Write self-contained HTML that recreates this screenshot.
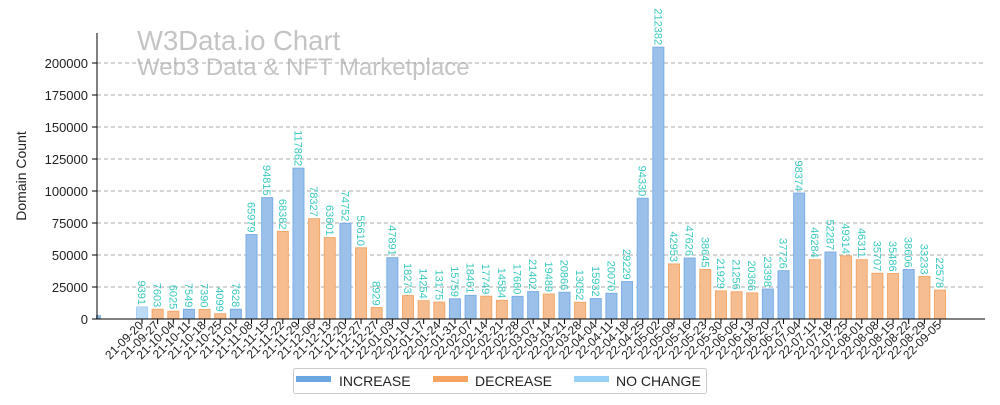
<!DOCTYPE html>
<html><head><meta charset="utf-8"><style>
body{margin:0;background:#fff;}
svg{font-family:"Liberation Sans",sans-serif;}
</style></head><body>
<svg id="chart" width="1000" height="400">
<text x="137" y="50" font-size="27.5" fill="#c4c4c4">W3Data.io Chart</text>
<text x="137" y="75" font-size="24" fill="#c4c4c4">Web3 Data &amp; NFT Marketplace</text>
<text transform="translate(26,176) rotate(-90)" text-anchor="middle" font-size="14" fill="#222">Domain Count</text>
<g id="grid"></g><g id="bars"></g><g id="axes"></g>
<g>
<rect x="293.5" y="368.5" width="413" height="25" fill="#fff" stroke="#ccc" rx="2"/>
<g><rect x="296" y="376" width="35" height="6" fill="#6aa6e2"/><text x="339" y="386" font-size="14" fill="#222">INCREASE</text></g>
<g><rect x="433" y="376" width="35" height="6" fill="#f4a460"/><text x="475" y="386" font-size="14" fill="#222">DECREASE</text></g>
<g><rect x="574" y="376" width="35" height="6" fill="#99d0f8"/><text x="616" y="386" font-size="14" fill="#222">NO CHANGE</text></g>
</g>
</svg>
<script>
const categories=["21-09-20","21-09-27","21-10-04","21-10-11","21-10-18","21-10-25","21-11-01","21-11-08","21-11-15","21-11-22","21-11-29","21-12-06","21-12-13","21-12-20","21-12-27","21-12-27","22-01-03","22-01-10","22-01-17","22-01-24","22-01-31","22-02-07","22-02-14","22-02-21","22-02-28","22-03-07","22-03-14","22-03-21","22-03-28","22-04-04","22-04-11","22-04-18","22-04-25","22-05-02","22-05-09","22-05-16","22-05-23","22-05-30","22-06-06","22-06-13","22-06-20","22-06-27","22-07-04","22-07-11","22-07-18","22-07-25","22-08-01","22-08-08","22-08-15","22-08-22","22-08-29","22-09-05"];
const values=[9391,7603,6025,7549,7390,4099,7628,65979,94815,68382,117862,78327,63601,74752,55610,8929,47891,18273,14254,13175,15759,18461,17749,14584,17660,21402,19489,20866,13052,15932,20070,29229,94330,212382,42953,47626,38645,21929,21256,20366,23398,37726,98374,46284,52287,49314,46311,35707,35486,38606,33233,22578];
const kinds=["N","D","D","I","D","D","I","I","I","D","I","D","D","I","D","D","I","D","D","D","I","I","D","D","I","I","D","I","D","I","I","I","I","I","D","I","D","D","D","D","I","I","I","D","I","D","D","D","D","I","D","D"];
const yTicks=[0,25000,50000,75000,100000,125000,150000,175000,200000];
const NS="http://www.w3.org/2000/svg";
const X0=97,X1=985,Y0=319,YTOP=63,YMAXV=200000;
const y=v=>Y0-(v/YMAXV)*(Y0-YTOP);
const step=(940-142)/(categories.length-1);
const x=i=>142+i*step;
const fills={I:["#9bc1ea","#7aaee5"],D:["#f6bd91","#f2a86a"],N:["#bcdcf6","#a8d0f2"]};
function mk(t,a,p){const e=document.createElementNS(NS,t);for(const k in a)e.setAttribute(k,a[k]);p.appendChild(e);return e;}
const grid=document.getElementById('grid'),bars=document.getElementById('bars'),axes=document.getElementById('axes');
yTicks.forEach(v=>{
 if(v>0){const g=mk('line',{x1:X0,x2:X1,y1:y(v),y2:y(v),stroke:'#aaa','stroke-dasharray':'4,3'},grid);
 
 }
 const t=mk('text',{x:88,y:y(v)+5,'text-anchor':'end','font-size':13,fill:'#222'},axes);t.textContent=v;
 
 
 mk('line',{x1:X0-5,x2:X0,y1:y(v),y2:y(v),stroke:'#000'},axes);
});
const sb=mk('rect',{x:96,y:315,width:5,height:4,fill:'#8fb4dc'},bars);


values.forEach((v,i)=>{
 const cx=x(i),f=fills[kinds[i]];
 const r=mk('rect',{x:cx-5.5,y:y(v),width:11,height:Y0-y(v),fill:f[0],stroke:f[1],'stroke-width':1},bars);
 
 
 const t=mk('text',{transform:`translate(${cx-4},${y(v)-2}) rotate(90)`,'text-anchor':'end','font-size':11,fill:'#3cc8c0'},bars);
 t.textContent=v;
 
 
 mk('line',{x1:cx,x2:cx,y1:Y0,y2:Y0+5,stroke:'#000'},axes);
 const l=mk('text',{transform:`translate(${cx+2},${Y0+7}) rotate(-45)`,'text-anchor':'end','font-size':12,fill:'#222'},axes);
 l.textContent=categories[i];
 
 
});
const ya=mk('line',{x1:X0,x2:X0,y1:33,y2:Y0,stroke:'#000'},axes);


const xa=mk('line',{x1:X0,x2:X1,y1:Y0,y2:Y0,stroke:'#000'},axes);


</script>
</body></html>
